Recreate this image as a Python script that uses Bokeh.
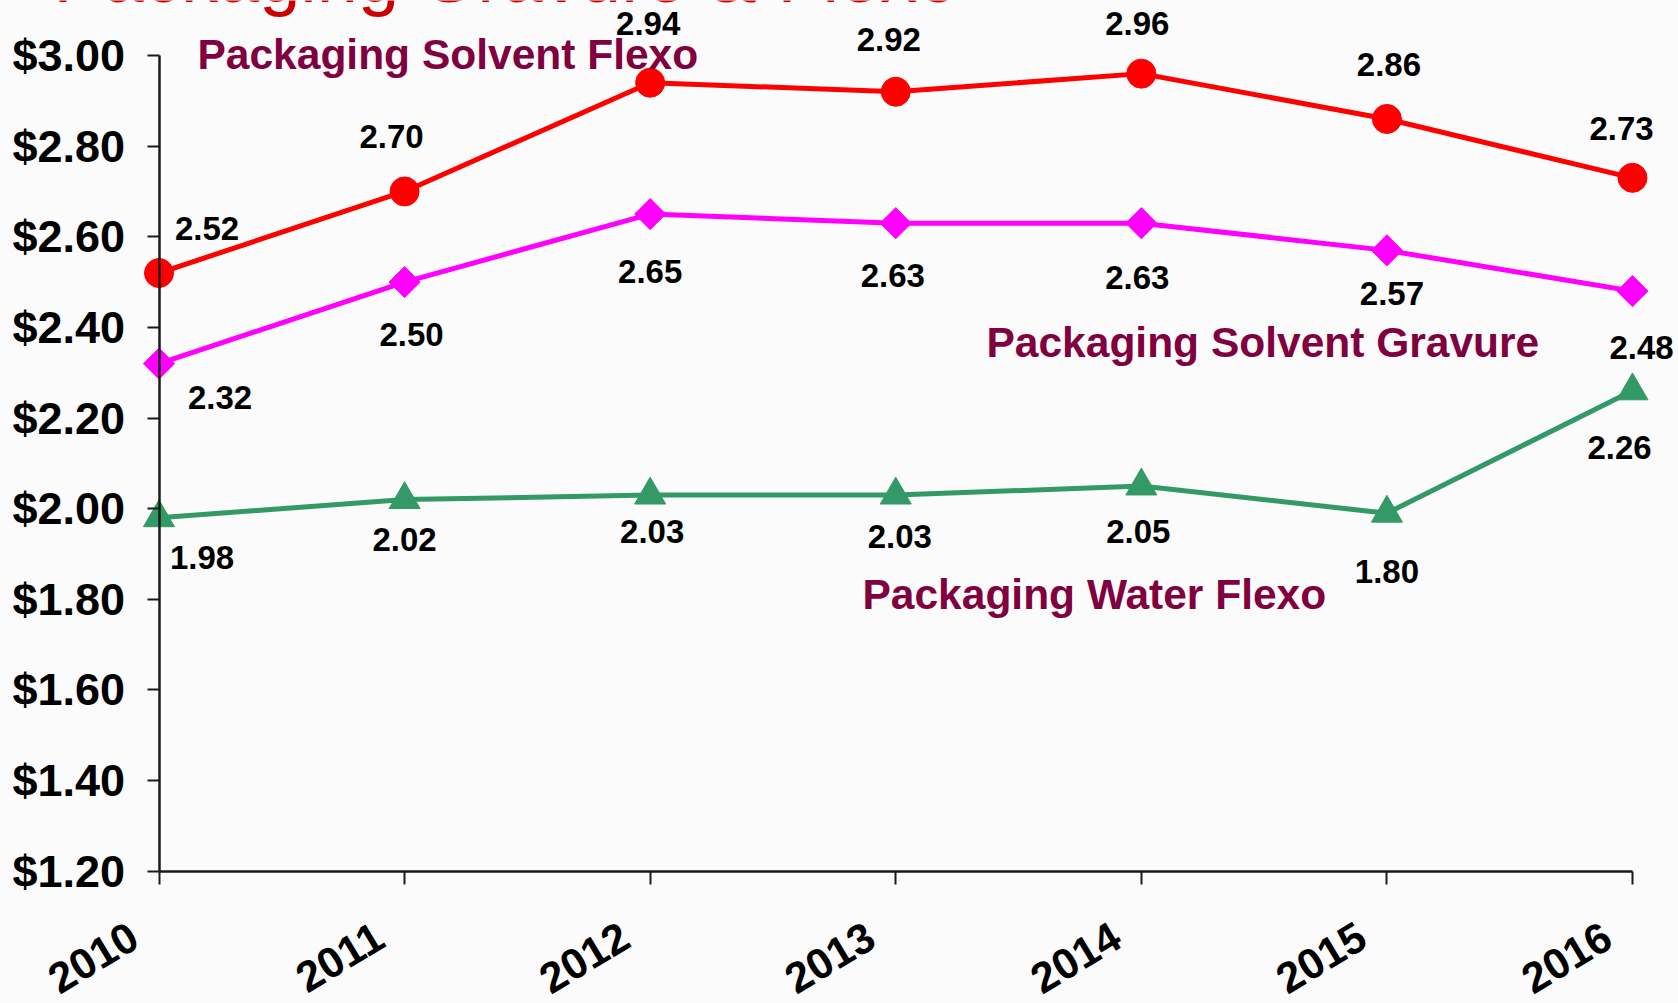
import numpy as np
from bokeh.plotting import figure
from bokeh.models import LinearAxis, FixedTicker, NumeralTickFormatter, Range1d, Label, ColumnDataSource
from bokeh.embed import file_html
from bokeh.resources import INLINE
from bokeh.core.properties import value

# ---------------- data ----------------
years = [2010, 2011, 2012, 2013, 2014, 2015, 2016]
year_labels = ["2010", "2011", "2012", "2013", "2014", "2015", "2016"]

solvent_flexo = [2.52, 2.70, 2.94, 2.92, 2.96, 2.86, 2.73]
solvent_flexo_labels = ["2.52", "2.70", "2.94", "2.92", "2.96", "2.86", "2.73"]

solvent_gravure = [2.32, 2.50, 2.65, 2.63, 2.63, 2.57, 2.48]
solvent_gravure_labels = ["2.32", "2.50", "2.65", "2.63", "2.63", "2.57", "2.48"]

water_flexo = [1.98, 2.02, 2.03, 2.03, 2.05, 1.99, 2.26]
water_flexo_labels = ["1.98", "2.02", "2.03", "2.03", "2.05", "1.80", "2.26"]

y_ticks = [1.2, 1.4, 1.6, 1.8, 2.0, 2.2, 2.4, 2.6, 2.8, 3.0]
series_names = ["Packaging Solvent Flexo", "Packaging Solvent Gravure", "Packaging Water Flexo"]
title_text = "Packaging Gravure & Flexo"

# ---------------- layout / style ----------------
W, H = 1678, 1003
X0, X1 = 2009.35459, 2016.18731
Y0, Y1 = 0.90806, 3.12137
LAB_SHIFT = 0.1002
BG = "#fbfbfb"
AX = "#1a1a1a"
NAME_COLOR = "#800040"
FONT = "Liberation Sans"

p = figure(width=W, height=H, x_range=Range1d(X0, X1), y_range=Range1d(Y0, Y1),
           x_axis_type=None, y_axis_type=None, output_backend="svg",
           toolbar_location=None, min_border=0, outline_line_color=None,
           background_fill_color=BG, border_fill_color=BG)
p.extra_x_ranges = {"lab": Range1d(X0 + LAB_SHIFT, X1 + LAB_SHIFT)}

# x axis (line + ticks)
xaxis = LinearAxis(fixed_location=y_ticks[0], bounds=(years[0], years[-1]),
                   ticker=FixedTicker(ticks=years),
                   axis_line_width=2.5, axis_line_color=AX,
                   major_tick_out=13, major_tick_in=0, major_tick_line_width=2,
                   major_tick_line_color=AX, minor_tick_line_color=None,
                   major_label_text_color=None)
p.add_layout(xaxis, "below")

# x tick labels (rotated), on a shifted range so they sit left of their ticks
xlab = LinearAxis(fixed_location=y_ticks[0], x_range_name="lab",
                  ticker=FixedTicker(ticks=years),
                  major_label_overrides={y: l for y, l in zip(years, year_labels)},
                  axis_line_color=None, major_tick_line_color=None, minor_tick_line_color=None,
                  major_tick_out=0, major_tick_in=0, minor_tick_out=0, minor_tick_in=0,
                  major_label_orientation=np.deg2rad(31), major_label_standoff=62,
                  major_label_text_font=FONT, major_label_text_font_style="bold",
                  major_label_text_font_size="43px", major_label_text_color="black")
p.add_layout(xlab, "below")

# y axis
yaxis = LinearAxis(fixed_location=years[0], bounds=(y_ticks[0], y_ticks[-1]),
                   ticker=FixedTicker(ticks=y_ticks),
                   formatter=NumeralTickFormatter(format="$0.00"),
                   axis_line_width=2.5, axis_line_color=AX,
                   major_tick_out=12, major_tick_in=0, major_tick_line_width=2,
                   major_tick_line_color=AX, minor_tick_line_color=None,
                   major_label_standoff=22,
                   major_label_text_font=FONT, major_label_text_font_style="bold",
                   major_label_text_font_size="45px", major_label_text_color="black")
p.add_layout(yaxis, "left")

# ---------------- series ----------------
series = [
    (solvent_flexo, solvent_flexo_labels, "#FF0000", "circle", 29, 0.0, 5,
     [48, -13, -2, -7, -4, 2, -11], [-45, -55, -59, -52, -50, -54, -49]),
    (solvent_gravure, solvent_gravure_labels, "#FF00FF", "square", 22, np.pi / 4, 5,
     [61, 7, 0, -3, -4, 5, 9], [34, 52, 57, 52, 54, 43, 56]),
    (water_flexo, water_flexo_labels, "#339966", "triangle", 31, 0.0, 5,
     [43, 0, 2, 4, -3, 0, -13], [40, 40, 36, 41, 45, 58, 57]),
]

for vals, labs, color, marker, size, ang, lw, dx, dy in series:
    src = ColumnDataSource(dict(x=years, y=vals, t=labs, dx=dx, dy=dy))
    p.line("x", "y", source=src, line_color=color, line_width=lw)
    p.scatter("x", "y", source=src, marker=marker, size=size, angle=ang,
              fill_color=color, line_color=color, line_width=1)
    p.text("x", "y", text="t", source=src, x_offset="dx", y_offset="dy",
           text_align="center", text_baseline="middle",
           text_font=value(FONT), text_font_style="bold",
           text_font_size="33px", text_color="black")

# series name labels (screen units, y measured from the bottom)
name_pos = [(197, 948.6), (986, 660.6), (862, 409.1)]
for name, (sx, sy) in zip(series_names, name_pos):
    p.add_layout(Label(x=sx, y=sy, x_units="screen", y_units="screen", text=name,
                       text_align="left", text_baseline="middle",
                       text_font=FONT, text_font_style="bold", text_font_size="42.5px",
                       text_color=NAME_COLOR))

# cut-off title at the top
p.add_layout(Label(x=53, y=1026.6, x_units="screen", y_units="screen", text=title_text,
                   text_align="left", text_baseline="middle",
                   text_font=FONT, text_font_size="74px", text_color="#CC0000"))

open("out.html", "w").write(file_html(p, INLINE))
